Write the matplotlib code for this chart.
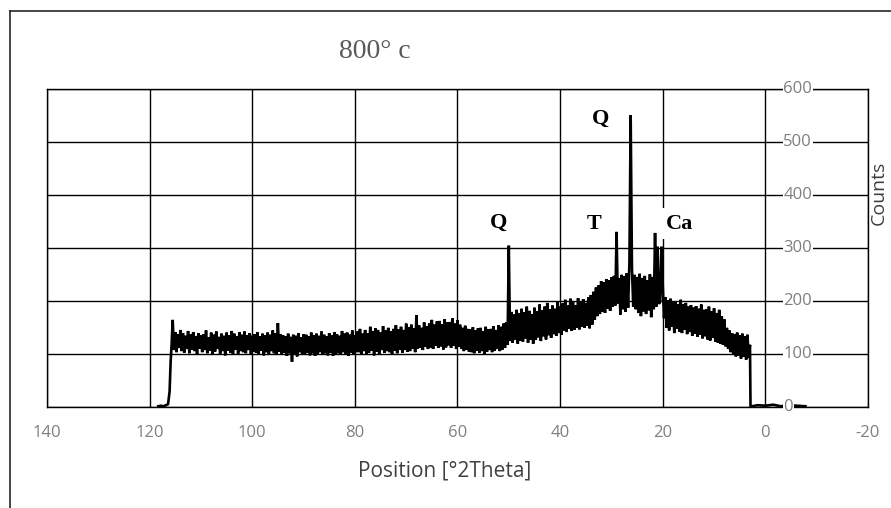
import numpy as np
import matplotlib
matplotlib.use("Agg")
import matplotlib.pyplot as plt
from matplotlib.lines import Line2D

# ---- scan data (counts vs 2-theta) ----
# rising edge at the high-angle end of the scan
lead_theta = [118.3, 117.8, 117.3, 116.8, 116.4, 116.1, 115.9, 115.7]
lead_counts = [2, 3, 2, 4, 6, 30, 85, 120]

# main scan, 0.25 degree steps starting at 115.5 and going down
scan_start = 115.5
scan_step = 0.25
scan_counts = [
    165, 108, 142, 104, 138, 112, 146, 106,
    140, 103, 135, 110, 144, 102, 138, 109,
    142, 106, 134, 100, 140, 111, 136, 104,
    138, 108, 145, 102, 132, 107, 141, 99,
    137, 105, 143, 110, 133, 101, 139, 106,
    135, 98, 141, 107, 136, 103, 144, 100,
    139, 109, 134, 101, 142, 106, 137, 104,
    143, 102, 136, 108, 140, 99, 135, 105,
    138, 103, 142, 100, 134, 107, 139, 98,
    136, 104, 141, 101, 137, 106, 145, 102,
    140, 99, 159, 105, 138, 100, 136, 103,
    134, 97, 139, 102, 133, 86, 137, 100,
    135, 96, 140, 104, 132, 99, 138, 101,
    137, 103, 134, 98, 141, 102, 136, 97,
    139, 100, 135, 104, 143, 99, 137, 102,
    134, 98, 140, 103, 136, 97, 142, 101,
    138, 102, 135, 99, 144, 104, 139, 100,
    141, 97, 137, 103, 145, 101, 136, 104,
    143, 104, 148, 100, 139, 106, 146, 99,
    140, 103, 152, 107, 144, 98, 149, 105,
    146, 101, 141, 108, 153, 103, 145, 106,
    150, 104, 143, 99, 148, 107, 155, 102,
    147, 109, 152, 103, 146, 108, 158, 105,
    151, 106, 156, 110, 149, 104, 174, 111,
    155, 112, 150, 108, 160, 114, 153, 110,
    158, 113, 165, 110, 156, 116, 162, 112,
    163, 115, 157, 109, 166, 113, 160, 117,
    161, 112, 168, 116, 158, 110, 164, 114,
    156, 111, 150, 106, 154, 109, 148, 105,
    147, 104, 151, 102, 145, 107, 149, 103,
    150, 106, 144, 101, 152, 105, 147, 108,
    148, 104, 153, 107, 146, 110, 155, 106,
    152, 109, 158, 112, 160, 118, 305, 125,
    180, 122, 175, 128, 184, 120, 178, 126,
    186, 124, 179, 130, 190, 122, 182, 128,
    176, 120, 188, 127, 181, 132, 194, 125,
    183, 134, 190, 128, 197, 136, 185, 131,
    192, 138, 186, 135, 199, 140, 190, 137,
    196, 145, 203, 142, 192, 148, 205, 144,
    200, 146, 193, 150, 206, 147, 198, 152,
    204, 150, 197, 154, 208, 149, 212, 156,
    218, 165, 226, 172, 230, 176, 238, 180,
    236, 178, 242, 186, 240, 182, 245, 190,
    248, 192, 331, 196, 244, 175, 250, 185,
    247, 180, 253, 188, 270, 551, 262, 190,
    250, 185, 246, 178, 252, 172, 244, 181,
    248, 176, 240, 183, 251, 170, 246, 185,
    329, 190, 303, 195, 200, 303, 230, 168,
    208, 150, 202, 145, 205, 152, 198, 140,
    200, 148, 195, 143, 203, 140, 194, 146,
    197, 138, 190, 142, 193, 135, 188, 139,
    191, 133, 186, 137, 194, 130, 184, 134,
    185, 128, 190, 126, 181, 131, 187, 124,
    178, 122, 184, 120, 172, 118, 166, 115,
    150, 110, 145, 104, 140, 100, 138, 96,
    141, 98, 136, 92, 139, 95, 134, 90,
    137, 93, 118,
]

# drop-off and flat tail at the low-angle end
tail_theta = [2.9, 2.6, 1.5, 0.0, -1.5, -3.0, -4.5, -6.0, -7.8]
tail_counts = [3, 2, 4, 3, 5, 2, 4, 3, 2]

scan_theta = scan_start - scan_step * np.arange(len(scan_counts))
two_theta = np.concatenate([lead_theta, scan_theta, tail_theta])
counts = np.concatenate([lead_counts, scan_counts, tail_counts])

# axis ticks
x_ticks = [140, 120, 100, 80, 60, 40, 20, 0, -20]
y_ticks = [0, 100, 200, 300, 400, 500, 600]

# phase labels: (text, 2theta, counts)
phase_labels = [
    ("Q", 32.2, 544),
    ("Q", 51.9, 348),
    ("T", 33.3, 346),
]
ca_label = ("Ca", 19.4, 346)

# ---- figure ----
fig = plt.figure(figsize=(8.91, 5.08), dpi=100)
fig.patch.set_facecolor("white")

ax = fig.add_axes([0.0527, 0.1982, 0.9215, 0.6260])
ax.set_xlim(140, -20)
ax.set_ylim(0, 600)

ax.plot(two_theta, counts, color="black", lw=1.9, zorder=3,
        solid_joinstyle="miter")

ax.set_xticks(x_ticks)
ax.set_xticklabels([str(t) for t in x_ticks])
ax.set_yticks(y_ticks)
ax.set_yticklabels([])
ax.tick_params(axis="both", length=0)
ax.tick_params(axis="x", pad=13, labelsize=12, labelcolor="#7f7f7f")
for lab in ax.get_xticklabels():
    lab.set_fontfamily("Open Sans")

ax.grid(True, color="black", lw=1.0, zorder=1)
ax.set_axisbelow(True)
for sp in ax.spines.values():
    sp.set_color("black")
    sp.set_linewidth(1.0)

# value labels for the counts axis, sitting on the gridlines just right of 0
for v in y_ticks:
    ax.text(-3.5, v, str(v), ha="left", va="center", fontsize=12,
            color="#7f7f7f", family="Open Sans", zorder=5,
            bbox=dict(facecolor="white", edgecolor="none", pad=0.6))

for txt, xv, yv in phase_labels:
    ax.text(xv, yv, txt, ha="center", va="center", fontsize=16,
            fontweight="bold", family="Liberation Serif", color="black",
            zorder=6)
ax.text(ca_label[1], ca_label[2], ca_label[0], ha="left", va="center",
        fontsize=16, fontweight="bold", family="Liberation Serif",
        color="black", zorder=6,
        bbox=dict(facecolor="white", edgecolor="none", pad=4))

# titles
fig.text(0.421, 0.8858, "800\u00b0 c", ha="center", va="baseline",
         fontsize=20, family="Liberation Serif", color="#595959")
fig.text(445 / 891, 1 - 471 / 508, "Position [\u00b02Theta]", ha="center",
         va="center", fontsize=15, family="Open Sans", color="#404040")
fig.text(879 / 891, 1 - 193 / 508, "Counts", ha="center", va="center",
         rotation=90, fontsize=14, family="Open Sans", color="#404040")

# frame around the chart area
fig.add_artist(Line2D([10 / 891, 10 / 891], [0, 1 - 11 / 508],
                      transform=fig.transFigure, color="#262626", lw=1.2))
fig.add_artist(Line2D([10 / 891, 1], [1 - 11 / 508, 1 - 11 / 508],
                      transform=fig.transFigure, color="#262626", lw=1.2))

fig.savefig("out.png", dpi=100)
